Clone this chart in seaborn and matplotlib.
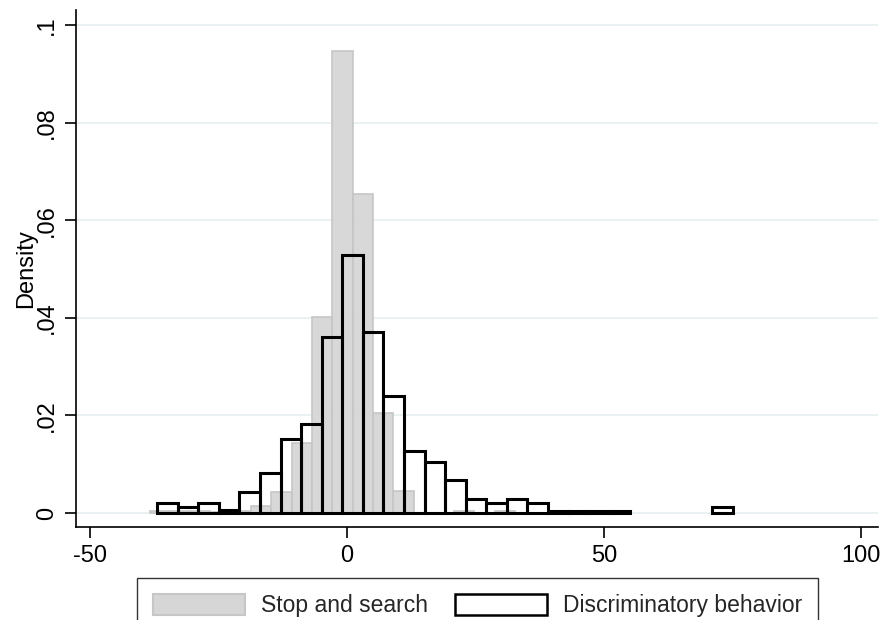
import numpy as np
import pandas as pd
import matplotlib
matplotlib.use("Agg")
import matplotlib.pyplot as plt
import seaborn as sns
from matplotlib.patches import Patch

# ---- data ----
# Stop and search: bin start, bin width, densities per bin
stop_start = -38.4
stop_width = 3.95
stop_density = [0.0005, 0.0004, 0.0004, 0.0003, 0.0004, 0.0014, 0.0044, 0.0144,
                0.0402, 0.0947, 0.0654, 0.0205, 0.0046, 0.0, 0.0, 0.0004, 0.0, 0.0004]

# Discriminatory behavior
disc_start = -36.9
disc_width = 4.0
disc_density = [0.0020, 0.0013, 0.0020, 0.0006, 0.0044, 0.0082, 0.0152, 0.0182,
                0.0361, 0.0529, 0.0371, 0.0240, 0.0127, 0.0104, 0.0068, 0.0029,
                0.0020, 0.0029, 0.0020, 0.0005, 0.0005, 0.0005, 0.0005, 0.0,
                0.0, 0.0, 0.0, 0.0013]

x_ticks = [-50, 0, 50, 100]
x_tick_labels = ["-50", "0", "50", "100"]
y_ticks = [0, 0.02, 0.04, 0.06, 0.08, 0.1]
y_tick_labels = ["0", ".02", ".04", ".06", ".08", ".1"]
series_labels = ["Stop and search", "Discriminatory behavior"]

# ---- build tables ----
stop_edges = [stop_start + stop_width * i for i in range(len(stop_density) + 1)]
disc_edges = [disc_start + disc_width * i for i in range(len(disc_density) + 1)]
stop_df = pd.DataFrame({"x": [(a + b) / 2 for a, b in zip(stop_edges[:-1], stop_edges[1:])],
                        "w": stop_density})
disc_df = pd.DataFrame({"x": [(a + b) / 2 for a, b in zip(disc_edges[:-1], disc_edges[1:])],
                        "w": disc_density})

sns.set_theme(style="white")
plt.rcParams["font.family"] = ["Liberation Sans", "DejaVu Sans"]

fig = plt.figure(figsize=(8.85, 6.2), dpi=100)
ax = fig.add_axes([76 / 885, 1 - 527 / 620, (878 - 76) / 885, (527 - 10) / 620])

gray_face = "#d6d6d6"
gray_edge = "#c6c6c6"

sns.histplot(data=stop_df, x="x", weights="w", bins=stop_edges, stat="count",
             color=gray_face, edgecolor=gray_edge, linewidth=1.2, alpha=0.95, ax=ax)
sns.histplot(data=disc_df, x="x", weights="w", bins=disc_edges, stat="count",
             fill=False, element="bars", color="black", edgecolor="black",
             linewidth=2.2, ax=ax)

# hide empty bins (no mark drawn for zero density)
for p in ax.patches:
    if p.get_height() <= 0:
        p.set_visible(False)

ax.set_xlim(-52.7, 103.3)
ax.set_ylim(-0.00287, 0.1031)

ax.set_xticks(x_ticks)
ax.set_xticklabels(x_tick_labels)
ax.set_yticks(y_ticks)
ax.set_yticklabels(y_tick_labels, rotation=90, va="center")

ax.tick_params(axis="both", which="major", direction="out", length=8, width=1.2,
               color="black", labelsize=17, labelcolor="black", pad=5,
               bottom=True, left=True)

for y in y_ticks:
    ax.axhline(y, color="#e6eff1", linewidth=1.2, zorder=0)

for s in ["top", "right"]:
    ax.spines[s].set_visible(False)
for s in ["left", "bottom"]:
    ax.spines[s].set_color("black")
    ax.spines[s].set_linewidth(1.2)

ax.set_xlabel("")
ax.set_ylabel("Density", fontsize=17, color="black", labelpad=-1)

handles = [Patch(facecolor=gray_face, edgecolor=gray_edge, linewidth=1.5),
           Patch(facecolor="white", edgecolor="black", linewidth=1.8)]
leg = fig.legend(handles, series_labels, loc="upper center",
                 bbox_to_anchor=(0.5395, 1 - 578 / 620), ncol=2, fontsize=16.5,
                 frameon=True, fancybox=False, edgecolor="black",
                 handlelength=4.0, handleheight=1.0, columnspacing=1.2,
                 handletextpad=0.7, borderpad=0.7, borderaxespad=0)
leg.get_frame().set_linewidth(1.0)

fig.savefig("out.png", dpi=100)
